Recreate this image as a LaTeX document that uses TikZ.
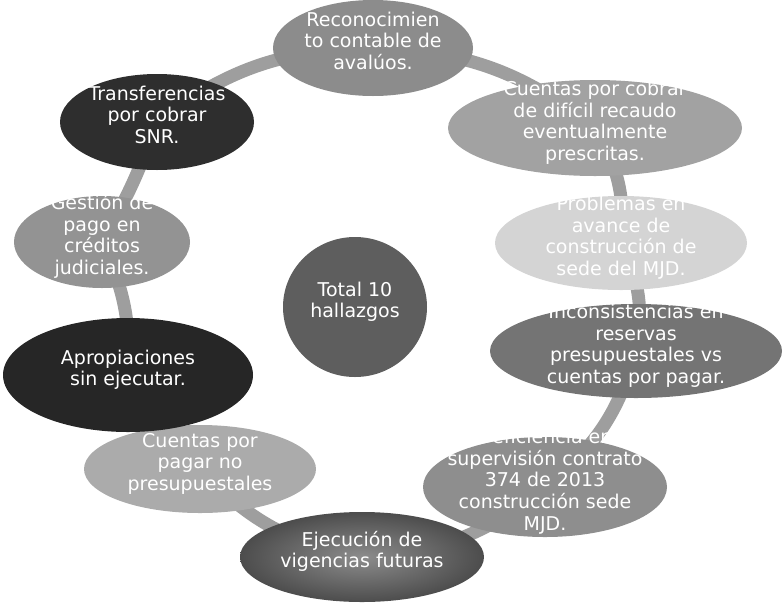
\documentclass[tikz,border=0pt]{standalone}
\usepackage{fontspec}
\setmainfont{DejaVu Sans}
\usetikzlibrary{backgrounds,shapes.geometric}

\definecolor{ringgray}{HTML}{9E9E9E}
\definecolor{recogray}{HTML}{8C8C8C}
\definecolor{cobrargray}{HTML}{A2A2A2}
\definecolor{problemasgray}{HTML}{D4D4D4}
\definecolor{inconsgray}{HTML}{747474}
\definecolor{deficgray}{HTML}{8E8E8E}
\definecolor{pagargray}{HTML}{ABABAB}
\definecolor{apropgray}{HTML}{262626}
\definecolor{gestiongray}{HTML}{939393}
\definecolor{transfgray}{HTML}{2E2E2E}
\definecolor{totalgray}{HTML}{5E5E5E}

\newcommand\hallazgotext[1]{\makebox[0pt]{\smash{\begin{tabular}{@{}c@{}}#1\end{tabular}}}}

\begin{document}
\begin{tikzpicture}[
    x=1pt,
    y=-1pt,
    finding/.style={
      ellipse,
      inner sep=0,
      text=white,
      font=\fontsize{19}{21.5}\selectfont,
    },
    link/.style={
      line width=13pt,
      color=ringgray,
    },
  ]
    \newcommand\hallazgo[6]{%
      \node[finding, #5, minimum width=#3pt, minimum height=#4pt] (#1) at #2 {\hallazgotext{#6}};
    }
    \useasboundingbox (0,0) rectangle (784,603);

    \hallazgo{reco}{(373,48)}{200}{96}{fill=recogray}
      {Reconocimien\\to contable de\\avalúos.}
    \hallazgo{cobrar}{(595,128)}{294}{96}{fill=cobrargray}
      {Cuentas por cobrar\\de difícil recaudo\\eventualmente\\prescritas.}
    \hallazgo{problemas}{(621,243)}{252}{94}{fill=problemasgray}
      {Problemas en\\avance de\\construcción de\\sede del MJD.}
    \hallazgo{incons}{(636,351)}{292}{94}{fill=inconsgray}
      {Inconsistencias en\\reservas\\presupuestales vs\\cuentas por pagar.}
    \hallazgo{defic}{(545,487)}{244}{100}{fill=deficgray}
      {Deficiencia en\\supervisión contrato\\374 de 2013\\construcción sede\\MJD.}
    \hallazgo{ejec}{(362,557)}{244}{90}{shade, inner color=black!45, outer color=black!70}
      {Ejecución de\\vigencias futuras}
    \hallazgo{pagar}{(200,469)}{232}{88}{fill=pagargray}
      {Cuentas por\\pagar no\\presupuestales}
    \hallazgo{aprop}{(128,375)}{250}{114}{fill=apropgray}
      {Apropiaciones\\sin ejecutar.}
    \hallazgo{gestion}{(102,242)}{176}{92}{fill=gestiongray}
      {Gestión de\\pago en\\créditos\\judiciales.}
    \hallazgo{transf}{(157,122)}{194}{96}{fill=transfgray}
      {Transferencias\\por cobrar\\SNR.}
    \hallazgo{total}{(355,307)}{144}{140}{fill=totalgray}
      {Total 10\\hallazgos}

    % ring between the findings
    \begin{scope}[on background layer]
      \draw[link] (reco.center) to[bend left=18] (cobrar.center);
      \draw[link] (cobrar.center) to[bend left=18] (problemas.center);
      \draw[link] (problemas.center) to[bend left=18] (incons.center);
      \draw[link] (incons.center) to[bend left=18] (defic.center);
      \draw[link] (defic.center) to[bend left=18] (ejec.center);
      \draw[link] (ejec.center) to[bend left=18] (pagar.center);
      \draw[link] (pagar.center) to[bend left=3] (aprop.center);
      \draw[link] (aprop.center) to[bend right=14] (gestion.center);
      \draw[link] (gestion.center) to[bend right=5] (transf.center);
      \draw[link] (transf.center) to[bend left=18] (reco.center);
    \end{scope}
  \end{tikzpicture}
\end{document}
